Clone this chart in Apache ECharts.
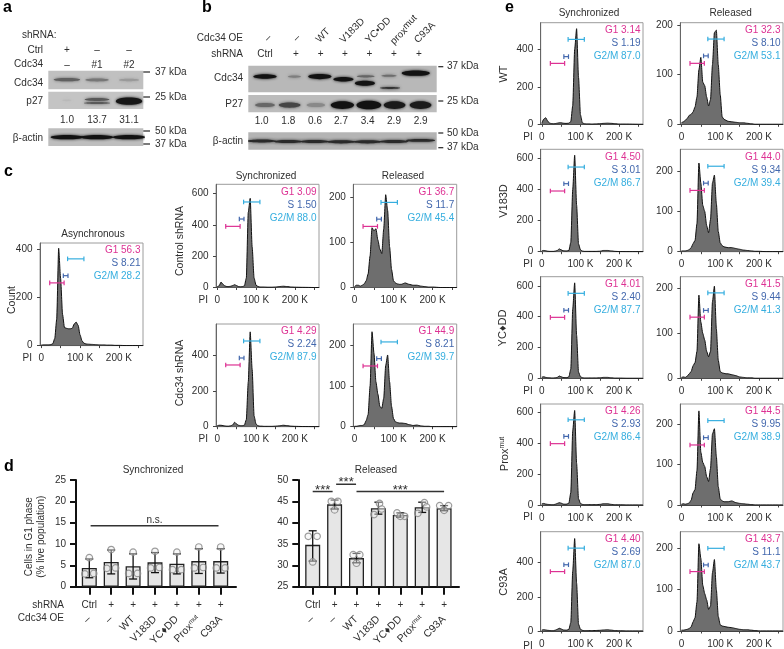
<!DOCTYPE html>
<html><head><meta charset="utf-8">
<style>html,body{margin:0;padding:0;background:#fff}#c{width:784px;height:649px}</style>
<script src="https://cdn.jsdelivr.net/npm/echarts@6/dist/echarts.min.js"></script>
</head><body><div id="c"></div>
<script>
// ---------- DATA ----------
const xBinsK=[0,5,10,15,20,25,30,35,40,45,50,55,60,65,70,75,80,85,90,95,100,105,110,115,120,130,140,150,160,170,180,190,200,220,250,262];
const histAsync=[2,3,3,3,3,4,8,30,110,405,280,130,75,72,70,70,72,90,98,85,45,20,10,7,6,5,4,3,3,2,2,1,1,0,0,0];
const histCtrlSync=[5,10,35,20,10,6,6,8,12,18,12,6,5,6,10,60,480,570,260,60,15,6,3,3,3,2,2,3,6,8,6,3,2,1,0,0];
const histCtrlRel=[2,5,5,3,5,8,15,30,70,132,125,130,105,85,75,130,205,170,90,40,15,10,8,7,7,10,7,5,5,3,2,1,1,0,0,0];
const histKdSync=[5,8,8,6,4,3,3,5,10,25,15,8,6,6,8,40,250,530,320,60,15,5,3,3,2,2,2,3,5,8,6,3,2,1,0,0];
const histKdRel=[1,1,2,3,3,5,15,30,100,233,180,110,80,50,45,70,150,176,110,50,20,12,10,9,9,8,5,3,4,2,1,1,0,0,0,0];
const histWtSync=[5,28,35,18,6,4,3,4,6,8,8,6,5,5,6,15,100,400,510,250,50,8,3,2,2,1,2,3,5,6,5,3,1,1,0,0];
const histWtRel=[3,5,8,12,18,20,25,35,55,110,135,85,78,55,37,50,120,185,190,120,60,15,10,8,6,5,4,3,3,2,1,0,0,0,0,0];
const histV183Sync=[6,8,6,3,2,2,2,4,8,18,12,6,5,5,8,60,400,620,300,50,12,4,2,2,2,2,2,3,8,8,5,2,1,0,0,0];
const histV183Rel=[2,2,2,3,5,10,20,28,70,220,170,115,100,65,47,80,170,190,120,50,22,15,12,11,10,10,8,6,4,3,2,1,1,0,0,0];
const histYcSync=[8,10,6,4,3,2,2,3,6,15,10,5,4,4,10,60,450,620,280,40,10,4,2,2,2,2,2,3,6,6,3,1,1,0,0,0];
const histYcRel=[2,3,2,5,10,15,28,35,60,185,125,100,85,60,48,60,170,205,110,40,15,12,11,10,10,8,6,3,2,1,1,0,0,0,0,0];
const histProxSync=[8,10,6,4,3,2,2,5,10,15,12,6,5,6,12,80,480,610,270,40,10,4,2,2,2,2,2,4,8,8,4,1,1,0,0,0];
const histProxRel=[2,3,2,3,5,12,30,38,85,232,130,105,95,70,58,90,175,188,120,45,15,10,8,8,8,10,6,4,3,2,1,0,0,0,0,0];
const histC93Sync=[6,8,6,4,3,2,2,5,10,16,12,6,5,5,10,50,350,540,280,40,10,4,2,2,2,2,3,4,6,7,5,2,1,0,0,0];
const histC93Rel=[2,2,3,4,6,10,22,32,70,210,175,110,90,75,52,60,140,172,100,35,15,12,11,10,9,8,6,4,3,3,2,1,0,0,0,0];
const gateG1=[22,59], gateS=[57,69], gateG2=[68,110];
const phaseNames=['G1','S','G2/M'];

const dLanes=[0,1,2,3,4,5,6];
const shRnaRow=['Ctrl','+','+','+','+','+','+'];
const oeRow=['–','–','WT','V183D','YC♦DD','{a|Prox}{s|mut}','C93A'];
const syncMeans=[4.4,5.8,4.8,5.7,5.4,6.0,6.0];
const syncLow=[2.1,3.0,1.8,3.3,3.0,3.1,3.2];
const syncHigh=[6.5,8.6,7.7,8.0,7.7,8.9,8.9];
const syncPts=[[6.8,3.0,3.1],[8.7,4.3,4.4],[8.1,3.1,3.1],[8.3,4.4,4.5],[8.1,4.0,4.0],[9.3,4.4,4.5],[9.3,4.4,4.4]];
const relMeans=[34.8,44.3,31.7,43.4,41.8,43.6,43.4];
const relLow=[31.0,43.2,30.6,42.0,41.3,42.4,42.8];
const relHigh=[38.1,45.3,32.8,44.8,42.3,44.8,44.0];
const relPts=[[36.8,36.8,30.8],[45.0,45.0,43.0],[32.5,32.5,30.5],[44.5,41.9,43.2],[42.3,41.5,41.5],[44.7,42.2,43.7],[44.0,44.0,42.9]];
const ptJitter=[[-.2,.2,0],[-.15,.15,0],[-.15,.15,0],[.05,-.2,.15],[-.15,.2,0],[.1,-.2,.2],[-.2,.2,0]];
const syncJitter=[[0,-.2,.2],[0,-.2,.2],[0,-.2,.2],[0,-.2,.2],[0,-.2,.2],[0,-.2,.2],[0,-.2,.2]];

// blot bands: [lane position, height fraction, darkness, thickness, lane width]
const blotACdc34=[[.6,.48,.55,.17,.85],[1.57,.5,.42,.15,.75],[2.6,.5,.22,.13,.65]];
const blotAp27=[[.6,.5,.06,.1,.3],[1.57,.45,.6,.17,.8],[1.57,.65,.6,.12,.85],[2.6,.55,.97,.42,.85]];
const blotAactin=[[.6,.5,1,.25,1.05],[1.57,.5,1,.25,1.05],[2.6,.5,1,.25,1.05]];
const blotBCdc34=[[.63,.41,1,.17,.88],[1.74,.41,.35,.09,.5],[2.7,.41,1,.19,.88],[3.59,.51,1,.17,.76],[4.43,.4,.5,.09,.68],[4.4,.66,1,.19,.76],[5.31,.38,.45,.08,.57],[5.35,.84,.8,.07,.76],[6.32,.28,1,.2,1.06]];
const blotBp27=[[.63,.58,.5,.24,.75],[1.56,.58,.7,.3,.82],[2.55,.58,.3,.24,.7],[3.55,.58,1,.45,.88],[4.55,.58,1,.5,.94],[5.52,.58,.95,.45,.82],[6.5,.58,.95,.45,.82]];
const blotBactin=[[.5,.5,.85,.17,1.1],[1.5,.53,.85,.18,1.1],[2.5,.53,.85,.18,1.1],[3.5,.55,.85,.18,1.1],[4.5,.55,.85,.18,1.1],[5.5,.53,.85,.18,1.1],[6.5,.47,.85,.16,1.1]];
const blotAvalues=['1.0','13.7','31.1'];
const blotBvalues=['1.0','1.8','0.6','2.7','3.4','2.9','2.9'];

// ---------- BUILD ----------
const FF='"Liberation Sans",Arial,sans-serif', INK='#2e2e2e', C_G1='#dd3193', C_S='#4267ad', C_G2='#36aedf';
const grid=[],xAxis=[],yAxis=[],series=[],graphic=[];
function T(text,x,y,o={}){
  const size=o.size||10, align=o.align||'center';
  const st={text,x:0,y:0,fill:o.color||INK,fontFamily:FF,fontSize:size,fontWeight:o.weight||'normal',
    align,textAlign:align,verticalAlign:'middle',textVerticalAlign:'middle'};
  if(o.rich)st.rich=o.rich;
  graphic.push({type:'text',x,y,rotation:(o.rot||0)*Math.PI/180,silent:true,z:50,style:st});
}
function addGrid(l,t,r,b,extra){grid.push(Object.assign({left:l,top:t,width:r-l,height:b-t,containLabel:false},extra||{}));return grid.length-1;}

function hist(values,l,t,r,b,yMax,yTicks,gY,stats,pi){
  const g=addGrid(l,t,r,b,{show:true,borderColor:'#9c9c9c',borderWidth:1,backgroundColor:'#fff'});
  const xi=xAxis.length;
  xAxis.push({gridIndex:g,type:'value',min:-3,max:262,splitLine:{show:false},
    axisLine:{show:true,onZero:false,lineStyle:{color:'#444',width:1}},
    axisTick:{show:true,length:2.5,customValues:[0,50,100,150,200,250],lineStyle:{color:'#444',width:1}},
    axisLabel:{show:true,customValues:[0,100,200],margin:8,color:INK,fontFamily:FF,fontSize:10,formatter:v=>v===0?'0':v+' K'}});
  yAxis.push({gridIndex:g,type:'value',min:0,max:yMax,splitLine:{show:false},
    axisLine:{show:true,onZero:false,lineStyle:{color:'#666',width:1}},
    axisTick:{show:true,length:3,customValues:yTicks,lineStyle:{color:'#444',width:1}},
    axisLabel:{show:true,customValues:yTicks,margin:7.5,color:INK,fontFamily:FF,fontSize:10}});
  series.push({type:'line',xAxisIndex:xi,yAxisIndex:xi,data:xBinsK.map((x,i)=>[x,values[i]]),showSymbol:false,symbol:'none',
    smooth:.2,smoothMonotone:'x',lineStyle:{color:'#111',width:1},areaStyle:{color:'#6e6e6e',opacity:1},silent:true,z:2});
  const gates=[[gateG2,gY[0],C_G2],[gateS,gY[1],C_S],[gateG1,gY[2],C_G1]];
  gates.forEach(([gx,y,color])=>{
    series.push({type:'custom',xAxisIndex:xi,yAxisIndex:xi,silent:true,z:5,clip:false,data:[[gx[0],gx[1],y]],
      renderItem:(p,api)=>{
        const a=api.coord([api.value(0),api.value(2)]),c=api.coord([api.value(1),api.value(2)]);
        const ls={stroke:color,lineWidth:1.2};
        return {type:'group',children:[
          {type:'line',shape:{x1:a[0],y1:a[1],x2:c[0],y2:c[1]},style:ls},
          {type:'line',shape:{x1:a[0],y1:a[1]-2.3,x2:a[0],y2:a[1]+2.3},style:ls},
          {type:'line',shape:{x1:c[0],y1:c[1]-2.3,x2:c[0],y2:c[1]+2.3},style:ls}]};
      }});
  });
  const cols=[C_G1,C_S,C_G2];
  phaseNames.forEach((n,i)=>T(n+' '+stats[i],r-2.5,t+7.5+13*i,{align:'right',color:cols[i],size:10}));
  if(pi)T('PI',l-8,b+12.5,{align:'right',size:10});
}

function blot(l,t,r,b,nLanes,bands,bg){
  const g=addGrid(l,t,r,b,{show:true,borderWidth:0,backgroundColor:bg});
  const xi=xAxis.length;
  xAxis.push({gridIndex:g,type:'value',show:false,min:0,max:nLanes});
  yAxis.push({gridIndex:g,type:'value',show:false,min:0,max:1,inverse:true});
  const bgv=parseInt(bg.slice(1,3),16);
  series.push({type:'custom',xAxisIndex:xi,yAxisIndex:xi,silent:true,clip:true,data:bands,
    renderItem:(p,api)=>{
      const c=api.coord([api.value(0),api.value(1)]);
      const s=api.size([api.value(4),api.value(3)]);
      const d=api.value(2), v=Math.round(bgv-(bgv-18)*d), col=`rgb(${v},${v},${v})`;
      return {type:'ellipse',shape:{cx:c[0],cy:c[1],rx:s[0]/2,ry:s[1]/2},style:{fill:col,shadowBlur:3,shadowColor:col}};
    }});
}

function kda(items,x1,x2,xt){
  items.forEach(([lab,y])=>{
    graphic.push({type:'rect',silent:true,shape:{x:x1,y:y-.6,width:x2-x1,height:1.2},style:{fill:'#222'}});
    T(lab,xt,y,{align:'left'});
  });
}

function dPanel(l,r,lane0,t,b,yMin,yMax,interval,means,low,high,pts,jit,brackets){
  const g=addGrid(l,t,r,b);
  const step=21.9, xMin=(l-lane0)/step, xMax=(r-lane0)/step;
  const xi=xAxis.length;
  const base={gridIndex:g,type:'value',min:xMin,max:xMax,splitLine:{show:false}};
  xAxis.push(Object.assign({},base,{
    axisLine:{show:true,onZero:false,lineStyle:{color:'#111',width:2}},
    axisTick:{show:true,length:8,customValues:dLanes,lineStyle:{color:'#111',width:2}},
    axisLabel:{show:true,customValues:dLanes,margin:13.5,color:INK,fontFamily:FF,fontSize:10,formatter:v=>shRnaRow[Math.round(v)]}}));
  yAxis.push({gridIndex:g,type:'value',min:yMin,max:yMax,interval,splitLine:{show:false},
    axisLine:{show:true,onZero:false,lineStyle:{color:'#111',width:2}},
    axisTick:{show:true,length:6,lineStyle:{color:'#111',width:2}},
    axisLabel:{show:true,margin:10,color:INK,fontFamily:FF,fontSize:10}});
  xAxis.push(Object.assign({},base,{position:'bottom',offset:31,
    axisLine:{show:false},axisTick:{show:false},
    axisLabel:{show:true,rotate:45,customValues:dLanes,margin:0,color:INK,fontFamily:FF,fontSize:10.5,
      formatter:v=>oeRow[Math.round(v)],
      rich:{a:{fontFamily:FF,fontSize:10.5,color:INK},s:{fontFamily:FF,fontSize:6.5,color:INK,verticalAlign:'top',padding:[0,0,5,0]}}}}));
  yAxis.push({gridIndex:g,type:'value',show:false,min:yMin,max:yMax});
  series.push({type:'bar',xAxisIndex:xi,yAxisIndex:xi,barWidth:15,data:means.map((v,i)=>[dLanes[i],v]),silent:true,z:2,
    itemStyle:{color:'#e6e6e6',borderColor:'#222',borderWidth:1.3}});
  series.push({type:'custom',xAxisIndex:xi,yAxisIndex:xi,silent:true,z:3,data:means.map((v,i)=>[dLanes[i],low[i],high[i]]),
    renderItem:(p,api)=>{
      const a=api.coord([api.value(0),api.value(1)]),c=api.coord([api.value(0),api.value(2)]);
      const ls={stroke:'#111',lineWidth:1.3};
      return {type:'group',children:[
        {type:'line',shape:{x1:a[0],y1:a[1],x2:c[0],y2:c[1]},style:ls},
        {type:'line',shape:{x1:a[0]-4,y1:a[1],x2:a[0]+4,y2:a[1]},style:ls},
        {type:'line',shape:{x1:c[0]-4,y1:c[1],x2:c[0]+4,y2:c[1]},style:ls}]};
    }});
  const ptData=[];pts.forEach((row,i)=>row.forEach((v,j)=>ptData.push([dLanes[i]+jit[i][j],v])));
  series.push({type:'scatter',xAxisIndex:xi,yAxisIndex:xi,silent:true,z:4,data:ptData,symbol:'circle',symbolSize:6.5,
    itemStyle:{color:'rgba(240,240,240,.55)',borderColor:'#858585',borderWidth:1.2}});
  brackets.forEach(br=>{
    const star=br[3]==='***';
    series.push({type:'custom',xAxisIndex:xi,yAxisIndex:xi,silent:true,z:5,clip:false,data:[br.slice(0,3)],
      renderItem:(p,api)=>{
        const a=api.coord([api.value(0),api.value(2)]),c=api.coord([api.value(1),api.value(2)]);
        return {type:'group',children:[
          {type:'line',shape:{x1:a[0],y1:a[1],x2:c[0],y2:c[1]},style:{stroke:'#333',lineWidth:1.5}},
          {type:'text',x:(a[0]+c[0])/2,y:a[1]-(star?1.5:5.5),style:{text:br[3],fontFamily:FF,fontSize:star?13:10,fontWeight:'normal',fill:INK,align:'center',textAlign:'center',verticalAlign:'middle',textVerticalAlign:'middle'}}]};
      }});
  });
}

// panel letters
[['a',3,8],['b',202,8],['c',4,172],['d',4,467],['e',505,8]].forEach(([t,x,y])=>T(t,x,y,{align:'left',size:16,weight:'bold',color:'#000'}));

// a
T('shRNA:',22,35,{align:'left'});
[['Ctrl',50],['Cdc34',64.7],['Cdc34',83],['p27',101],['β-actin',138]].forEach(([t,y])=>T(t,43,y,{align:'right'}));
const aX=[67,97,129];
['+','–','–'].forEach((t,i)=>T(t,aX[i],50));
['–','#1','#2'].forEach((t,i)=>T(t,aX[i],65));
blotAvalues.forEach((t,i)=>T(t,aX[i],120));
blot(48.3,70.7,143.3,89.3,3.06,blotACdc34,'#c0c0c0');
blot(48.3,91.7,143.3,109,3.06,blotAp27,'#c4c4c4');
blot(48.3,128.3,143.3,146,3.06,blotAactin,'#bebebe');
kda([['37 kDa',72],['25 kDa',97],['50 kDa',131],['37 kDa',144]],143.3,150,155);

// b
T('Cdc34 OE',243,38.3,{align:'right'});T('shRNA',243,54,{align:'right'});T('Ctrl',265,54);
[296,320.7,345,369.3,394,419].forEach(x=>T('+',x,54));
T('–',268,38,{rot:45});T('–',296.7,38,{rot:45});
[['WT',317.5,41],['V183D',341.5,41.5],['YC•DD',367,41.5],['C93A',416,41.5]].forEach(([t,x,y])=>T(t,x,y,{align:'left',rot:45}));
T('{a|prox}{s|mut}',392,43,{align:'left',rot:45,rich:{a:{fontFamily:FF,fontSize:10,fill:INK,color:INK},s:{fontFamily:FF,fontSize:9.5,fill:INK,color:INK,verticalAlign:'top',padding:[0,0,4,0]}}});
[['Cdc34',78.7],['P27',104.7],['β-actin',141.7]].forEach(([t,y])=>T(t,243,y,{align:'right'}));
const bX=[261.7,288.3,315,341,367.7,394,420.7];
blotBvalues.forEach((t,i)=>T(t,bX[i],121));
blot(248.3,65.7,436.7,92.3,7.11,blotBCdc34,'#b8b8b8');
blot(248.3,95,436.7,112.3,7.11,blotBp27,'#bcbcbc');
blot(248.3,132.3,436.7,149.7,7.11,blotBactin,'#b4b4b4');
kda([['37 kDa',66.7],['25 kDa',101],['50 kDa',133],['37 kDa',147.7]],438.3,443.3,447);

// c
T('Asynchronous',93,234,{size:10});T('Synchronized',266,176,{size:10});T('Released',403,176,{size:10});
T('Count',12,300,{rot:90,size:10.5});T('Control shRNA',180,241,{rot:90,size:10.5});T('Cdc34 shRNA',180,373,{rot:90,size:10.5});
hist(histAsync,40,243,143,345.6,427,[0,200,400],[361,291,261],['56.3','8.21','28.2'],true);
hist(histCtrlSync,216,184.3,319,287.5,660,[0,200,400,600],[547,438,391],['3.09','1.50','88.0'],true);
hist(histCtrlRel,353.3,184.3,456.7,287.5,228,[0,100,200],[188,151,135],['36.7','11.7','45.4'],false);
hist(histKdSync,216,324,319,426.7,574,[0,200,400],[479,384,345],['4.29','2.24','87.9'],true);
hist(histKdRel,353.3,324,456.7,426.7,252,[0,100,200],[208,167,149],['44.9','8.21','39.7'],false);

// d
T('Synchronized',153,470.7,{size:10});T('Released',376,470.7,{size:10});
T('Cells in G1 phase',29,536.7,{rot:90,size:10});T('(% live population)',41,536.7,{rot:90,size:10});
T('shRNA',64,605,{align:'right'});T('Cdc34 OE',64,618,{align:'right'});
dPanel(76,236,89.3,480,586.7,0,25,5,syncMeans,syncLow,syncHigh,syncPts,syncJitter,[[.06,5.9,14.3,'n.s.']]);
dPanel(298.3,459,312.7,480,586.7,25,50,5,relMeans,relLow,relHigh,relPts,ptJitter,[[0,.91,47.3,'***'],[1.07,1.98,49,'***'],[2,6,47.3,'***']]);

// e
T('Synchronized',589,13,{size:10});T('Released',730.7,13,{size:10});
T('WT',504,74,{rot:90,size:11});T('V183D',504,201,{rot:90,size:11});T('YC♦DD',503,328,{rot:90,size:11});
T('{a|Prox}{s|mut}',505,454,{rot:90,size:11,rich:{a:{fontFamily:FF,fontSize:11,fill:INK,color:INK},s:{fontFamily:FF,fontSize:7,fill:INK,color:INK,verticalAlign:'top',padding:[0,0,5,0]}}});
T('C93A',504,582,{rot:90,size:11});
const eL=540.7,eR=643,fL=680.3,fR=783;
hist(histWtSync,eL,22.7,eR,124.3,542,[0,200,400],[453,361,325],['3.14','1.19','87.0'],true);
hist(histWtRel,fL,22.7,fR,124.3,205,[0,100,200],[172,138,123],['32.3','8.10','53.1'],false);
hist(histV183Sync,eL,149.3,eR,251.7,658,[0,200,400,600],[544,437,390],['4.50','3.01','86.7'],true);
hist(histV183Rel,fL,149.3,fR,251.7,254,[0,100,200],[212,170,152],['44.0','9.34','39.4'],false);
hist(histYcSync,eL,276.7,eR,378.3,660,[0,200,400,600],[552,442,396],['4.01','2.40','87.7'],true);
hist(histYcRel,fL,276.7,fR,378.3,226,[0,100,200],[190,151,136],['41.5','9.44','41.3'],false);
hist(histProxSync,eL,404,eR,505,652,[0,200,400,600],[550,443,396],['4.26','2.93','86.4'],true);
hist(histProxRel,fL,404,fR,505,249,[0,100,200],[208,166,148],['44.5','9.95','38.9'],false);
hist(histC93Sync,eL,531.7,eR,633.3,580,[0,200,400],[484,387,347],['4.40','2.69','87.0'],true);
hist(histC93Rel,fL,531.7,fR,633.3,239,[0,100,200],[199,159,143],['43.7','11.1','43.7'],false);

const chart=echarts.init(document.getElementById('c'));
chart.setOption({animation:false,backgroundColor:'#fff',grid,xAxis,yAxis,series,graphic:{elements:graphic}});
</script></body></html>
